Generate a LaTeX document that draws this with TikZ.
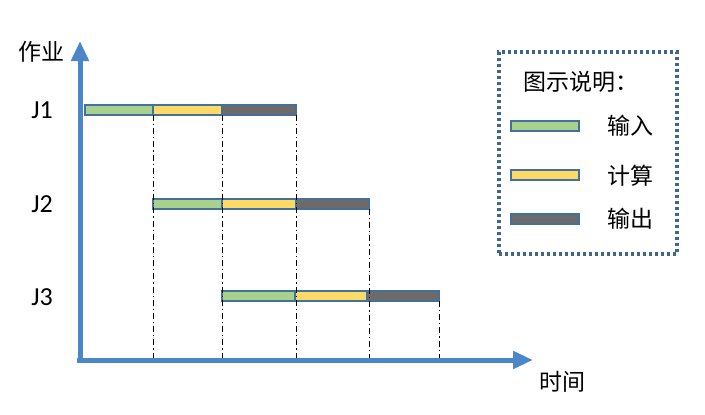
\documentclass[tikz,border=0pt]{standalone}
\usepackage{fontspec}
\setmainfont{Carlito}
\newfontfamily\cjk{Noto Sans CJK SC}
\usetikzlibrary{arrows.meta}
\definecolor{axisblue}{HTML}{4A86C8}
\definecolor{barblue}{HTML}{41719C}
\definecolor{ingreen}{HTML}{A9D18E}
\definecolor{calcyellow}{HTML}{FFD966}
\definecolor{outgray}{HTML}{6E6A6A}
\definecolor{dotblue}{HTML}{3A6690}
\begin{document}
\begin{tikzpicture}[x=1pt,y=-1pt,
  bar/.style={draw=barblue, line width=1.3pt, minimum height=10pt, inner sep=0pt, outer sep=0pt, anchor=west},
  inbar/.style={bar, fill=ingreen},
  calcbar/.style={bar, fill=calcyellow},
  outbar/.style={bar, fill=outgray},
  axis/.style={draw=axisblue, line width=5pt, -{Triangle[length=20pt,width=17pt]}},
  guide/.style={draw=black, line width=0.9pt, dash pattern=on 6pt off 3pt on 1.2pt off 3pt},
  jlabel/.style={font=\fontsize{26}{30}\selectfont, inner sep=0pt},
  cjklabel/.style={font=\cjk\fontsize{23}{28}\selectfont, inner sep=0pt},
  legendbox/.style={draw=dotblue, line width=3.2pt, dash pattern=on 3pt off 3pt}
]
\useasboundingbox (0,0) rectangle (705,415);

% axes
\coordinate (ybase) at (80,362);
\coordinate (ytip) at (80,41);
\coordinate (xbase) at (77,360);
\coordinate (xtip) at (533,360);

% bars J1
\node[inbar, minimum width=68pt] (a1) at (85,110) {};
\node[calcbar, minimum width=69pt] (b1) at (a1.east) {};
\node[outbar, minimum width=74pt] (c1) at (b1.east) {};
% bars J2
\node[inbar, minimum width=69pt] (a2) at (153,204) {};
\node[calcbar, minimum width=74pt] (b2) at (a2.east) {};
\node[outbar, minimum width=73pt] (c2) at (b2.east) {};
% bars J3
\node[inbar, minimum width=73pt] (a3) at (222,296) {};
\node[calcbar, minimum width=72pt] (b3) at (a3.east) {};
\node[outbar, minimum width=72pt] (c3) at (b3.east) {};

% guide lines
\draw[guide] (a1.south east) -- (a1.south east |- xbase);
\draw[guide] (b1.south east) -- (b1.south east |- xbase);
\draw[guide] (c1.south east) -- (c1.south east |- xbase);
\draw[guide] (c2.south east) -- (c2.south east |- xbase);
\draw[guide] (c3.south east) -- (c3.south east |- xbase);

\draw[axis] (ybase) -- (ytip);
\draw[axis] (xbase) -- (xtip);

% labels
\node[jlabel] (j1) at (42,110) {J1};
\node[jlabel] (j2) at (42,204) {J2};
\node[jlabel] (j3) at (42,297) {J3};
\node[cjklabel] (ylab) at (41,52) {作业};
\node[cjklabel] (xlab) at (562,382) {时间};

% legend
\node[legendbox, minimum width=178pt, minimum height=202pt, inner sep=0pt] (legend) at (588,153) {};
\node[cjklabel] (ltitle) at (581,82) {图示说明：};
\node[inbar, minimum width=68pt] (lin) at (511,126) {};
\node[calcbar, minimum width=68pt] (lcalc) at (511,175) {};
\node[outbar, minimum width=68pt] (lout) at (511,219) {};
\node[cjklabel] (tin) at (630,126) {输入};
\node[cjklabel] (tcalc) at (630,176) {计算};
\node[cjklabel] (tout) at (630,219) {输出};
\end{tikzpicture}
\end{document}
